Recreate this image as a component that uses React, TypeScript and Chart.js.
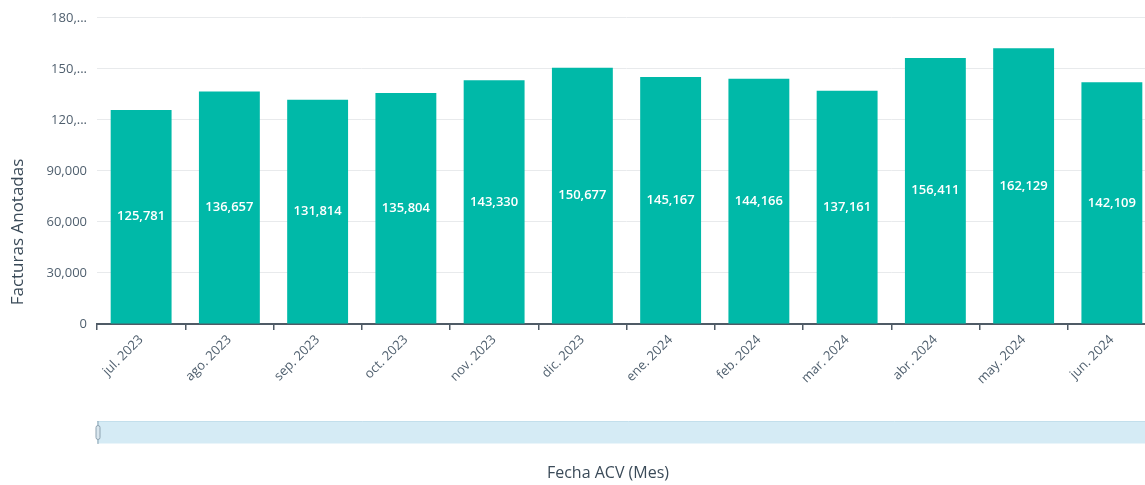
import React, { useEffect, useRef } from "react";
import { Chart, registerables } from "chart.js";

Chart.register(...registerables);

const months = ["jul. 2023", "ago. 2023", "sep. 2023", "oct. 2023", "nov. 2023", "dic. 2023", "ene. 2024", "feb. 2024", "mar. 2024", "abr. 2024", "may. 2024", "jun. 2024"];
const facturas = [125781, 136657, 131814, 135804, 143330, 150677, 145167, 144166, 137161, 156411, 162129, 142109];
const yTicks = [0, 30000, 60000, 90000, 120000, 150000, 180000];
const yTitle = "Facturas Anotadas";
const xTitle = "Fecha ACV (Mes)";

const FONT = "'Open Sans', 'Noto Sans', sans-serif";
const fmt = (v: number) => v.toLocaleString("en-US");

const extrasPlugin = {
  id: "extras",
  afterDatasetsDraw(chart: any) {
    const ctx = chart.ctx;
    const meta = chart.getDatasetMeta(0);
    ctx.save();
    ctx.fillStyle = "#ffffff";
    ctx.font = `600 13px ${FONT}`;
    ctx.textAlign = "center";
    ctx.textBaseline = "middle";
    meta.data.forEach((bar: any, i: number) => {
      const y = (bar.y + bar.base) / 2;
      ctx.fillText(fmt(facturas[i]), bar.x, y);
    });
    ctx.restore();
  },
  afterDraw(chart: any) {
    const ctx = chart.ctx;
    const area = chart.chartArea;
    ctx.save();
    ctx.fillStyle = "#3b4b59";
    ctx.font = `17px ${FONT}`;
    ctx.textAlign = "center";
    ctx.textBaseline = "middle";
    ctx.translate(18, 232);
    ctx.rotate(-Math.PI / 2);
    ctx.fillText(yTitle, 0, 0);
    ctx.restore();

    ctx.save();
    ctx.fillStyle = "#3b4b59";
    ctx.font = `16px ${FONT}`;
    ctx.textAlign = "center";
    ctx.textBaseline = "middle";
    ctx.fillText(xTitle, 608, 473);
    ctx.restore();

    // slider
    ctx.save();
    ctx.fillStyle = "#d5ebf5";
    ctx.fillRect(area.left, 421.5, chart.width - area.left, 22);
    ctx.strokeStyle = "#c3dfec";
    ctx.lineWidth = 1;
    ctx.beginPath();
    ctx.moveTo(area.left, 421.5);
    ctx.lineTo(chart.width, 421.5);
    ctx.stroke();
    ctx.strokeStyle = "#8ea3b1";
    ctx.beginPath();
    ctx.moveTo(area.left + 1, 421);
    ctx.lineTo(area.left + 1, 444);
    ctx.stroke();
    ctx.fillStyle = "#d9e6ee";
    ctx.beginPath();
    (ctx as any).roundRect(area.left - 1, 425.5, 4, 14, 2);
    ctx.fill();
    ctx.stroke();
    ctx.restore();
  },
};

export default function App() {
  const ref = useRef<HTMLCanvasElement | null>(null);
  useEffect(() => {
    document.body.style.margin = "0";
    document.body.style.overflow = "hidden";
    if (!ref.current) return;
    const chart = new Chart(ref.current, {
      type: "bar",
      data: {
        labels: months,
        datasets: [
          {
            data: facturas,
            backgroundColor: "#00b9a8",
            borderWidth: 0,
            categoryPercentage: 1,
            barPercentage: 0.69,
          },
        ],
      },
      options: {
        animation: false,
        responsive: false,
        maintainAspectRatio: false,
        layout: { padding: { left: 0, right: 4, top: 16, bottom: 0 } },
        plugins: {
          legend: { display: false },
          tooltip: { enabled: false },
          title: { display: false },
        },
        scales: {
          x: {
            offset: true,
            grid: {
              display: true,
              offset: true,
              drawOnChartArea: false,
              drawTicks: true,
              tickLength: 6,
              color: "#4f5b66",
              lineWidth: 1.5,
            },
            border: { display: true, color: "#4f5b66", width: 2 },
            ticks: {
              minRotation: 45,
              maxRotation: 45,
              autoSkip: false,
              color: "#4f5f6e",
              font: { family: FONT, size: 13 },
              padding: 2,
            },
            afterFit: (scale: any) => {
              scale.height = 161;
            },
          },
          y: {
            min: 0,
            max: 180000,
            afterBuildTicks: (scale: any) => {
              scale.ticks = yTicks.map((v) => ({ value: v }));
            },
            grid: { color: "#e8eaec", drawTicks: false, lineWidth: 1 },
            border: { display: false },
            ticks: {
              color: "#4f5f6e",
              font: { family: FONT, size: 13 },
              padding: 10,
              callback: (v: any) => {
                const s = fmt(Number(v));
                return Number(v) >= 120000 ? s.slice(0, 4) + "..." : s;
              },
            },
            afterFit: (scale: any) => {
              scale.width = 97;
            },
          },
        },
      },
      plugins: [extrasPlugin],
    });
    return () => chart.destroy();
  }, []);
  return (
    <div style={{ position: "fixed", left: 0, top: 0, width: 1145, height: 485, overflow: "hidden", background: "#fff" }}>
      <canvas ref={ref} width={1160} height={485} style={{ display: "block" }} />
    </div>
  );
}
